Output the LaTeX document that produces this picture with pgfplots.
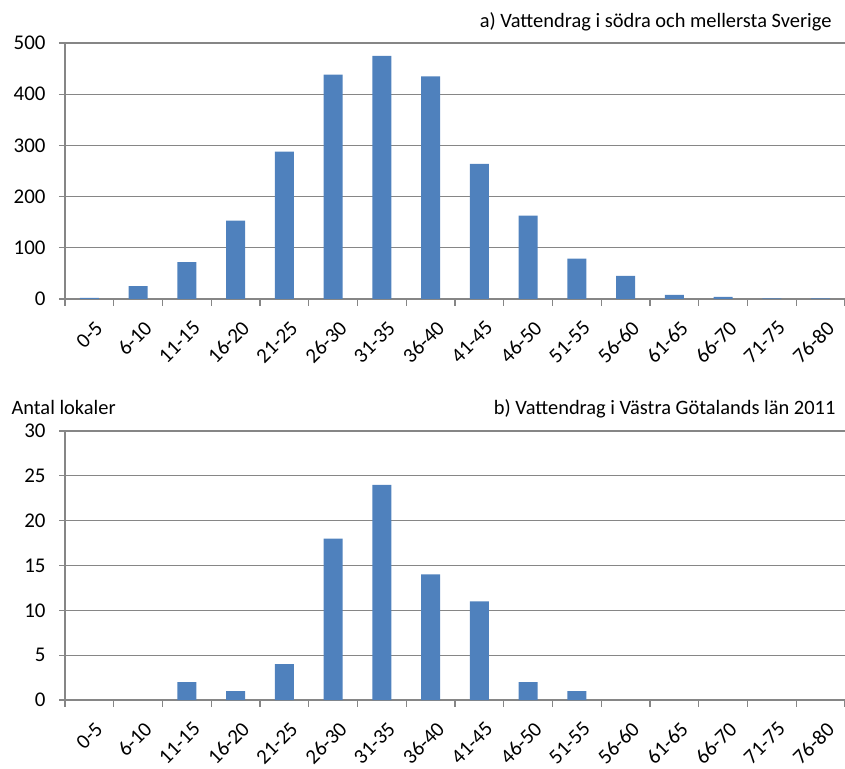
\documentclass[border=0pt]{standalone}
\usepackage{fontspec}
\setmainfont{Carlito}
\usepackage{pgfplots}
\pgfplotsset{compat=1.18}
\definecolor{barblue}{RGB}{79,129,189}
\definecolor{gridgray}{RGB}{134,134,134}

\pgfplotsset{
  histo/.style={
    scale only axis,
    clip=false,
    width=780bp,
    xmin=-0.5, xmax=15.5,
    ymin=0,
    axis x line*=bottom,
    axis y line*=left,
    axis line style={-, gridgray, line width=1.2bp},
    ymajorgrids,
    grid style={gridgray, line width=1.2bp},
    ybar, bar width=19bp,
    xtick={0,...,15},
    xticklabels={0-5,6-10,11-15,16-20,21-25,26-30,31-35,36-40,41-45,46-50,51-55,56-60,61-65,66-70,71-75,76-80},
    major x tick style={draw=none},
    minor xtick={-0.5,0.5,...,15.5},
    minor tick length=7bp,
    minor x tick style={gridgray, line width=1.2bp},
    xtick align=outside,
    ytick align=outside,
    major tick length=6bp,
    major y tick style={gridgray, line width=1.2bp},
    x tick label style={xshift=5bp, yshift=-10bp, rotate=45, anchor=north east},
    y tick label style={xshift=-10bp},
    tick label style={font=\fontsize{21}{24}\selectfont},
    /pgf/number format/assume math mode=true,
  }
}

\begin{document}
\begin{tikzpicture}
\useasboundingbox (-65bp,-69bp) rectangle (780bp,700bp);

\begin{axis}[histo,
  at={(0bp,401bp)}, anchor=south west,
  height=256bp,
  ymax=500, ytick={0,100,...,500},
]
\addplot[fill=barblue, draw=none] coordinates {
  (0,2) (1,25) (2,72) (3,153) (4,288) (5,438) (6,475) (7,435)
  (8,264) (9,163) (10,79) (11,45) (12,8) (13,4) (14,1) (15,1)
};
\node[anchor=base east, font=\fontsize{20.5}{24}\selectfont] at (rel axis cs:1,1) [xshift=-10bp, yshift=15bp] {a) Vattendrag i södra och mellersta Sverige};
\end{axis}

\begin{axis}[histo,
  at={(0bp,0bp)}, anchor=south west,
  height=269bp,
  ymax=30, ytick={0,5,...,30},
]
\addplot[fill=barblue, draw=none] coordinates {
  (2,2) (3,1) (4,4) (5,18) (6,24) (7,14)
  (8,11) (9,2) (10,1)
};
\node[anchor=base east, font=\fontsize{20.5}{24}\selectfont] at (rel axis cs:1,1) [xshift=-6bp, yshift=16bp] {b) Vattendrag i Västra Götalands län 2011};
\node[anchor=base west, font=\fontsize{20.5}{24}\selectfont] at (rel axis cs:0,1) [xshift=-57bp, yshift=16bp] {Antal lokaler};
\end{axis}
\end{tikzpicture}
\end{document}
